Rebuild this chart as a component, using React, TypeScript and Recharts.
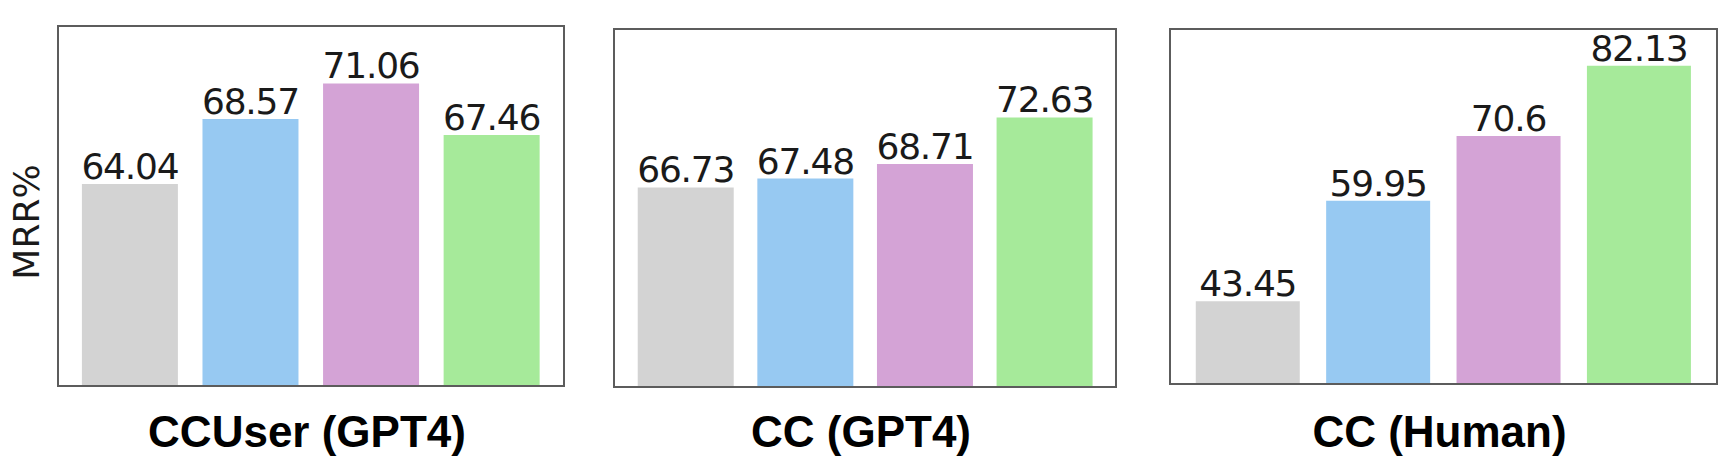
import React from 'react';
import { BarChart, Bar, XAxis, YAxis, Cell, LabelList } from 'recharts';

// four methods per panel (no x tick labels in the original)
const methods = ['m1', 'm2', 'm3', 'm4'];
const barColors = ['#d3d3d3', '#97c9f2', '#d4a3d6', '#a6ea9a'];

const ccUserGpt4 = [64.04, 68.57, 71.06, 67.46];
const ccGpt4 = [66.73, 67.48, 68.71, 72.63];
const ccHuman = [43.45, 59.95, 70.6, 82.13];

const panelTitles = ['CCUser (GPT4)', 'CC (GPT4)', 'CC (Human)'];
const yDomains: [number, number][] = [[50, 75], [50, 80], [30, 88]];
const yLabel = 'MRR%';

// frame boxes in page px
const boxes = [
  { left: 57, top: 25, width: 508, height: 362 },
  { left: 613, top: 28, width: 504, height: 360 },
  { left: 1169, top: 28, width: 549, height: 357 },
];

const BORDER = 2;
const HEADROOM = 22; // extra svg space above the frame so top labels aren't clipped

function Panel({ values, domain, box }: {
  values: number[];
  domain: [number, number];
  box: { left: number; top: number; width: number; height: number };
}) {
  const data = methods.map((m, i) => ({ name: m, value: values[i] }));
  const w = box.width - 2 * BORDER;
  const h = box.height - 2 * BORDER;
  // matplotlib-ish spacing: 0.8 wide bars, 0.05 x margins
  const unit = w / 4.18;
  const pad = 0.09 * unit;
  return (
    <div style={{
      position: 'absolute',
      left: box.left,
      top: box.top,
      width: box.width,
      height: box.height,
      boxSizing: 'border-box',
      border: `${BORDER}px solid #5c5c5c`,
    }}>
      <div style={{ position: 'absolute', left: 0, top: -HEADROOM }}>
        <BarChart
          width={w}
          height={h + HEADROOM}
          data={data}
          margin={{ top: HEADROOM, right: 0, bottom: 0, left: 0 }}
          barCategoryGap="10%"
        >
          <XAxis dataKey="name" hide padding={{ left: pad, right: pad }} />
          <YAxis hide domain={domain} allowDataOverflow />
          <Bar dataKey="value" isAnimationActive={false}>
            {data.map((d, i) => (
              <Cell key={d.name} fill={barColors[i]} />
            ))}
            <LabelList
              dataKey="value"
              position="top"
              offset={5}
              fill="#1a1a1a"
              fontSize={36}
              letterSpacing={-1.2}
              fontFamily="DejaVu Sans"
            />
          </Bar>
        </BarChart>
      </div>
    </div>
  );
}

export default function App() {
  const series = [ccUserGpt4, ccGpt4, ccHuman];
  return (
    <div style={{
      position: 'absolute',
      left: 0,
      top: 0,
      width: 1734,
      height: 472,
      background: '#fff',
      overflow: 'hidden',
    }}>
      {series.map((vals, i) => (
        <Panel key={panelTitles[i]} values={vals} domain={yDomains[i]} box={boxes[i]} />
      ))}
      <svg width={1734} height={472} style={{ position: 'absolute', left: 0, top: 0, pointerEvents: 'none' }}>
        <text
          transform="translate(39,222) rotate(-90)"
          textAnchor="middle"
          fontFamily="DejaVu Sans"
          fontSize={36}
          fill="#1a1a1a"
        >
          {yLabel}
        </text>
        {panelTitles.map((t, i) => (
          <text
            key={t}
            x={boxes[i].left + boxes[i].width / 2 - 4}
            y={447}
            textAnchor="middle"
            fontFamily="Liberation Sans, Arial, sans-serif"
            fontWeight="bold"
            fontSize={44}
            fill="#000"
          >
            {t}
          </text>
        ))}
      </svg>
    </div>
  );
}
